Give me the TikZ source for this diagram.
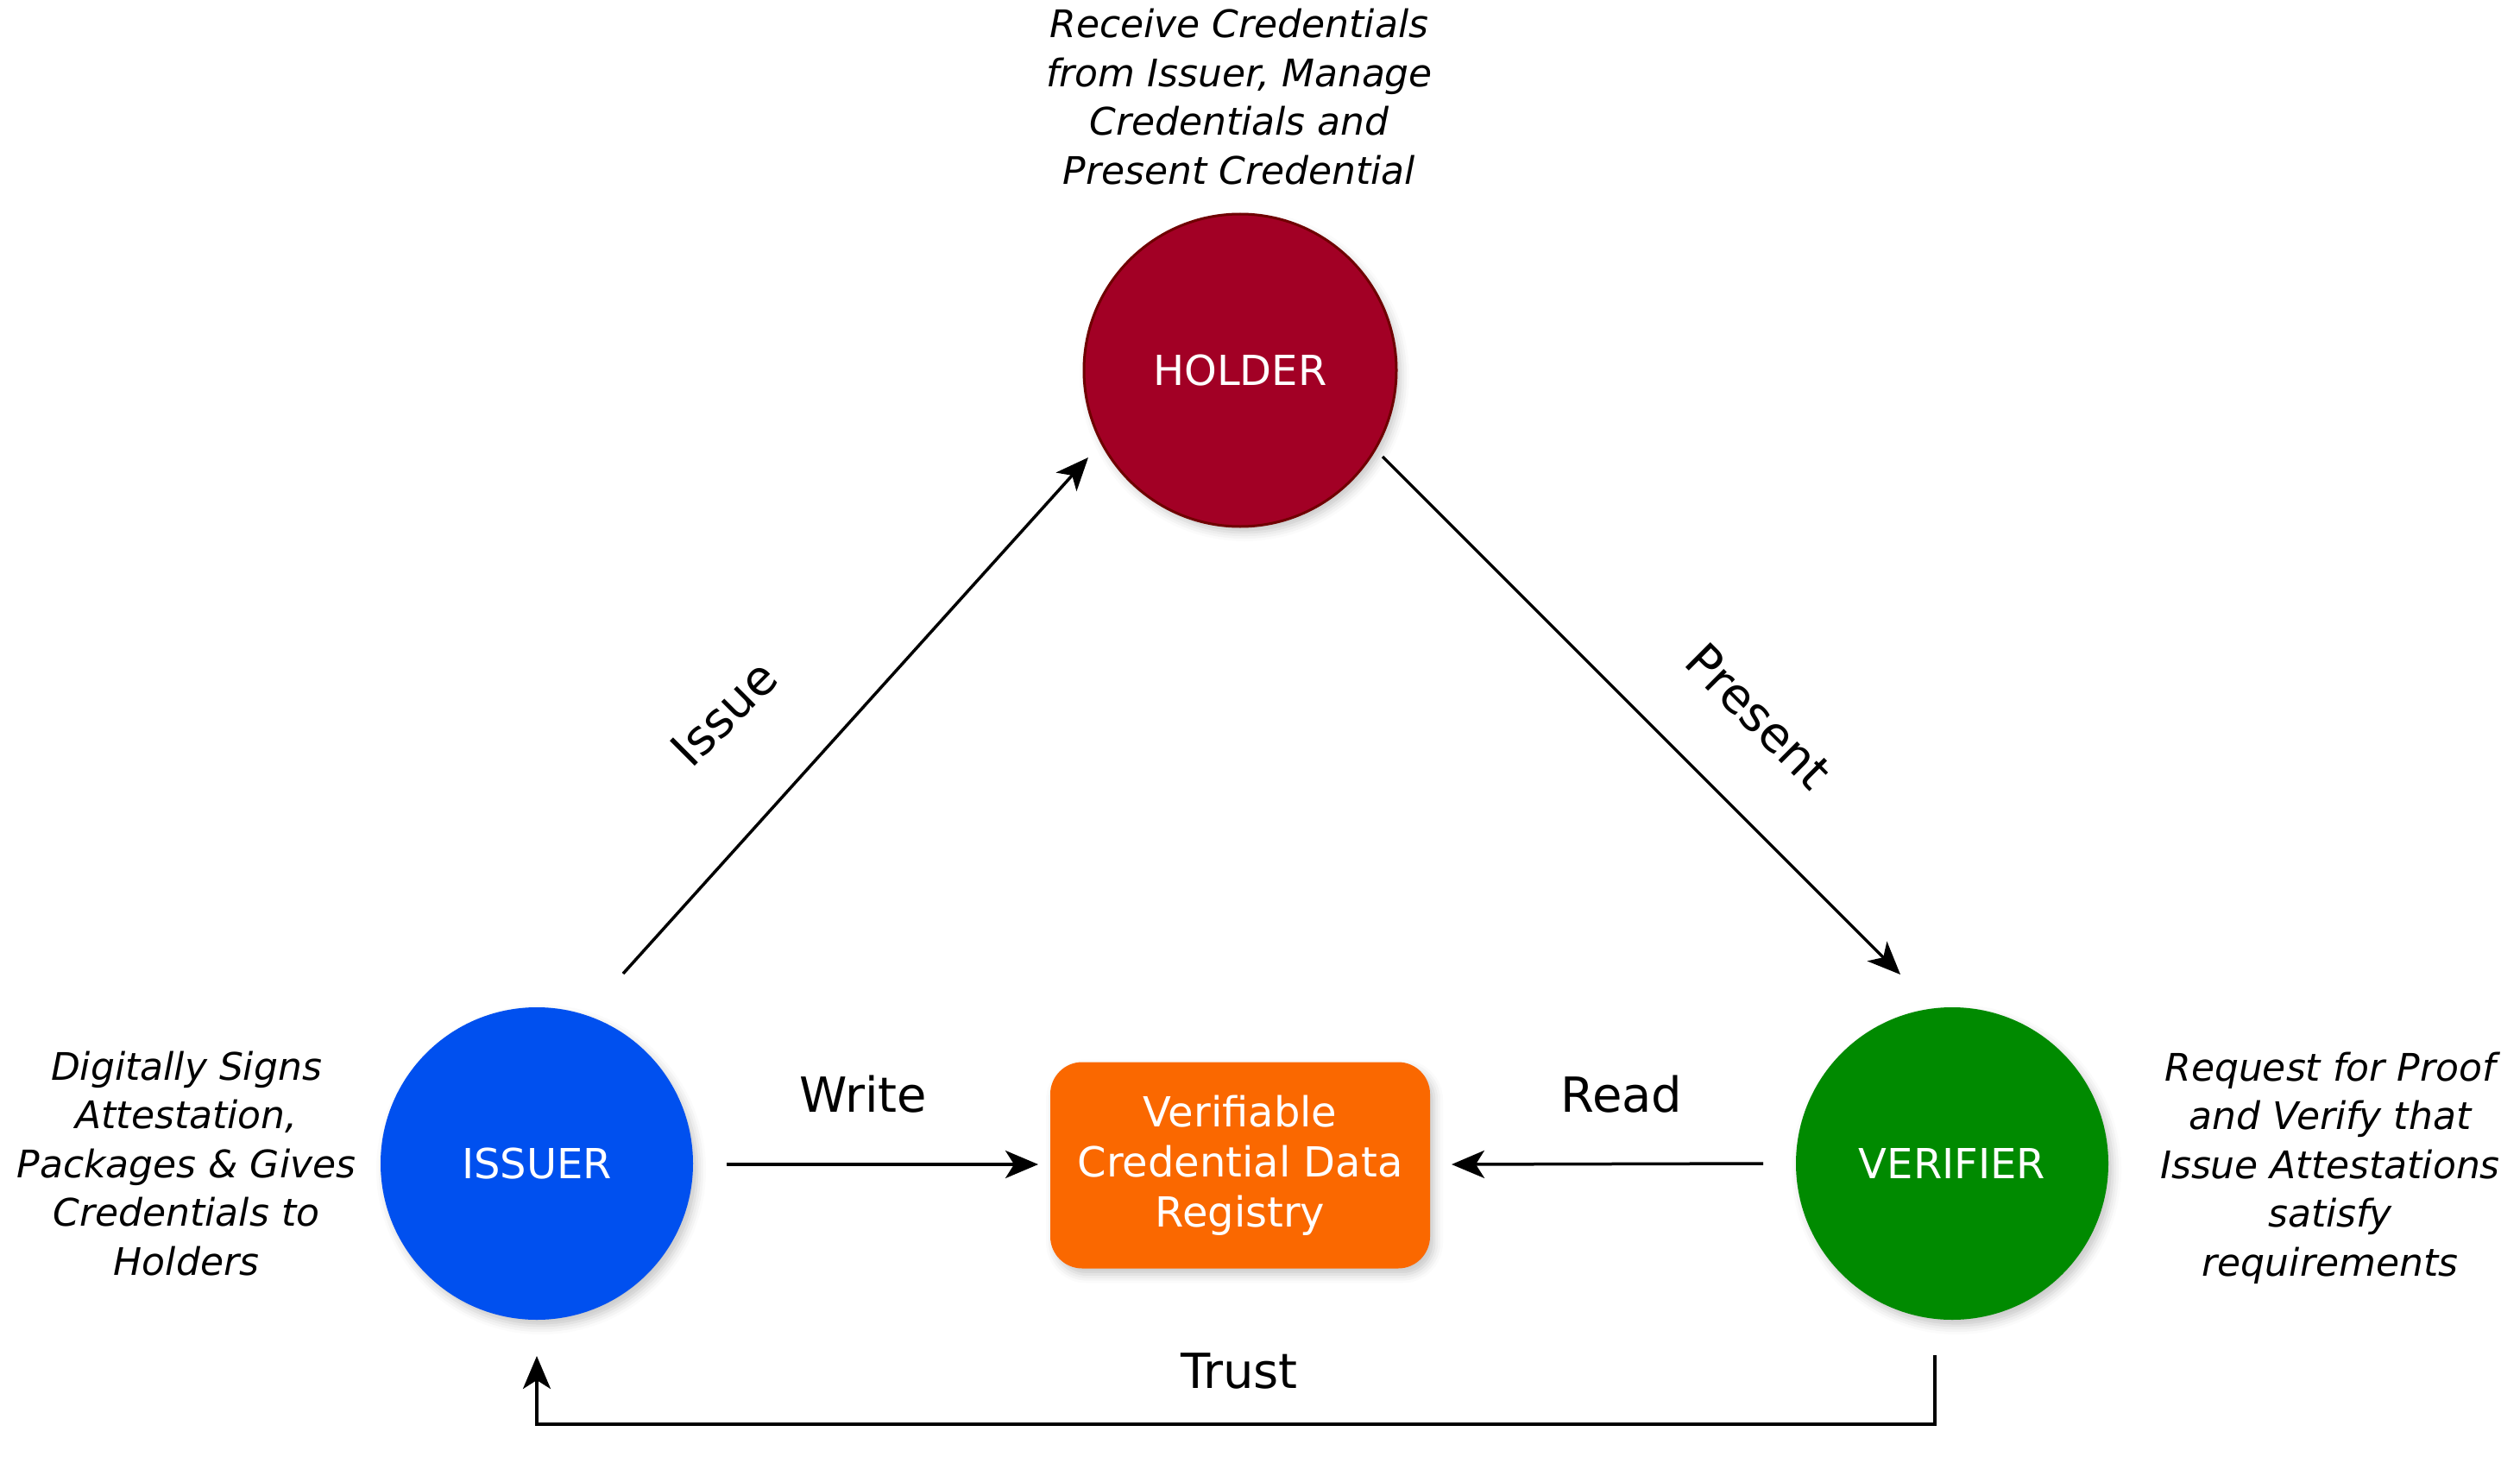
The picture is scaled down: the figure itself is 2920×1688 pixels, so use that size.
\documentclass[tikz,border=0pt]{standalone}
\usepackage{fontspec}
\setmainfont{DejaVu Sans}
\usetikzlibrary{arrows.meta,shadows.blur}
\definecolor{holderfill}{HTML}{A20025}
\definecolor{holderline}{HTML}{6F0000}
\definecolor{issuerfill}{HTML}{0050EF}
\definecolor{verifierfill}{HTML}{008A00}
\definecolor{regfill}{HTML}{FA6800}
\tikzset{
  softshadow/.style={blur shadow={shadow xshift=5pt,shadow yshift=-7pt,shadow blur radius=10pt,shadow opacity=22}},
  actor/.style={circle,minimum size=362pt,inner sep=0pt,text=white,font=\fontsize{48}{58}\selectfont,softshadow},
  regbox/.style={rectangle,rounded corners=37pt,minimum width=440pt,minimum height=239pt,inner sep=0pt,fill=regfill,text=white,align=center,font=\fontsize{48}{58}\selectfont,softshadow},
  caption/.style={align=center,inner sep=0pt,font=\fontsize{44}{56.5}\selectfont\itshape},
  flowlabel/.style={inner sep=0pt,font=\fontsize{56}{66}\selectfont},
  arr/.style={line width=3.5pt,-{Stealth[length=38pt,width=32pt,inset=10pt]}}
}
\begin{document}
\begin{tikzpicture}[x=1pt,y=-1pt]
\useasboundingbox (0,0) rectangle (2920,1688);
% actors
\node[actor,fill=holderfill,draw=holderline,line width=3pt] (hold) at (1437,429) {HOLDER};
\node[actor,fill=issuerfill] (iss) at (622,1348) {ISSUER};
\node[actor,fill=verifierfill] (ver) at (2262,1348) {VERIFIER};
\node[regbox] (reg) at (1437,1350) {Verifiable\\Credential Data\\Registry};
% captions
\node[caption] (capH) at (1436,112) {Receive Credentials\\from Issuer, Manage\\Credentials and\\Present Credential};
\node[caption] (capI) at (216,1348) {Digitally Signs\\Attestation,\\Packages \& Gives\\Credentials to\\Holders};
\node[caption] (capV) at (2700,1353) {Request for Proof\\and Verify that\\Issue Attestations\\satisfy\\requirements};
% connector end points
\coordinate (issA) at (722,1128);
\coordinate (issB) at (1261,530);
\coordinate (preA) at (1602,529);
\coordinate (preB) at (2202,1129);
\coordinate (wrA) at (842,1349);
\coordinate (wrB) at (1203,1349);
\coordinate (rdA) at (2043,1348);
\coordinate (rdB) at (1682,1349);
\coordinate (trA) at (2242,1570);
\coordinate (trB) at (622,1571);
% connectors
\draw[arr] (issA) -- (issB);
\draw[arr] (preA) -- (preB);
\draw[arr] (wrA) -- (wrB);
\draw[arr] (rdA) -- (rdB);
\draw[arr] (trA) -- ++(0,80) -| (trB);
% labels
\node[flowlabel,rotate=45] (lIssue) at (839,826) {Issue};
\node[flowlabel,rotate=-45] (lPresent) at (2038,830) {Present};
\node[flowlabel,anchor=base] (lWrite) at (1000,1288) {Write};
\node[flowlabel,anchor=base] (lRead) at (1879,1288) {Read};
\node[flowlabel,anchor=base] (lTrust) at (1436,1608) {Trust};
\end{tikzpicture}
\end{document}
